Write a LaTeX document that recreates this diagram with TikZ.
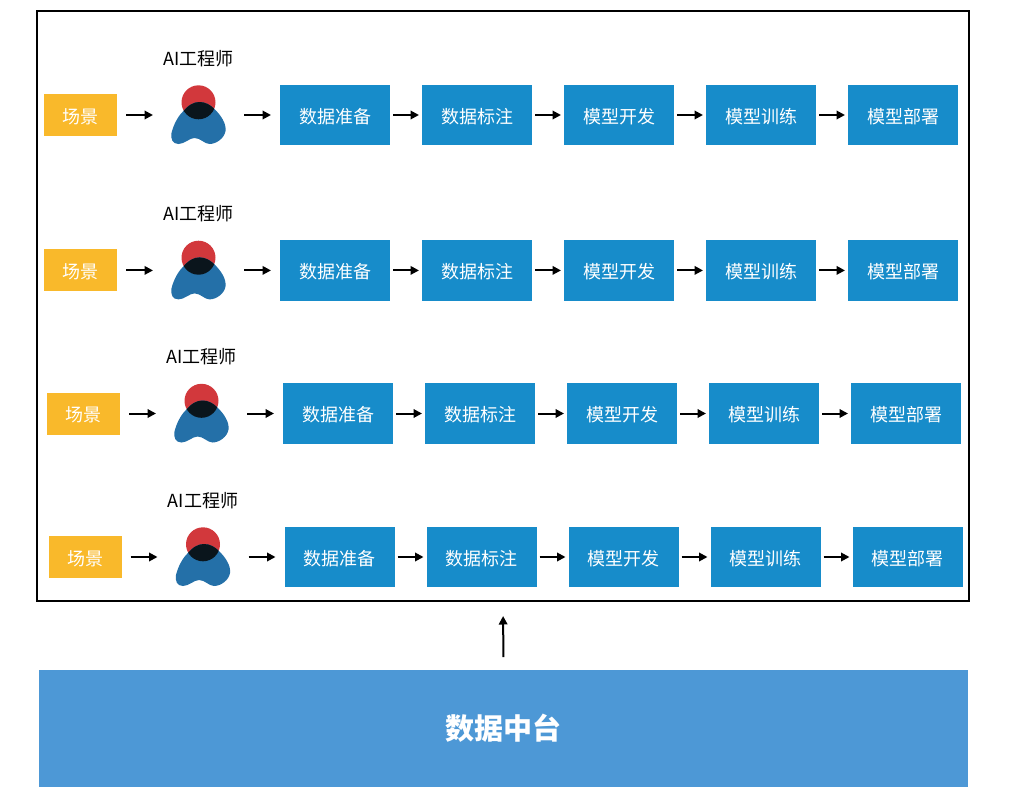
\documentclass[tikz,border=0pt]{standalone}
\usepackage{fontspec}
\setmainfont{Noto Sans CJK SC}
\usetikzlibrary{arrows.meta,positioning}
\definecolor{sceneorange}{HTML}{F9B92B}
\definecolor{stepblue}{HTML}{178CCA}
\definecolor{baseblue}{HTML}{4D98D6}
\definecolor{headred}{HTML}{D2383C}
\definecolor{bodyblue}{HTML}{2470A8}
\definecolor{overlapdark}{HTML}{0A151C}
\newcommand{\bodyshape}{(-27,18) .. controls (-25,10) and (-21,2) .. (-16,-3) .. controls (-10,-10) and (-5,-13) .. (1,-13) .. controls (7,-13) and (12,-10) .. (16,-6) .. controls (22,0) and (28,8) .. (27,16) .. controls (26,23) and (18,29) .. (11,29) .. controls (6,29) and (2,23) .. (-4,23) .. controls (-9,23) and (-14,29) .. (-20,29) .. controls (-26,29) and (-28,24) .. (-27,18) -- cycle}
\tikzset{
	pics/engineer/.style={code={
		\fill[headred] (0,-12.7) circle (17);
		\fill[bodyblue] \bodyshape;
		\begin{scope}
			\clip (0,-12.7) circle (17);
			\fill[overlapdark] \bodyshape;
		\end{scope}
	}}
}
\begin{document}
\begin{tikzpicture}[x=1pt,y=-1pt,>={Triangle[length=8.5pt,width=8.5pt]},line width=2pt,shorten >=3pt,shorten <=3pt,node distance=45pt,
		txt/.style={font=\fontsize{18}{20}\selectfont,inner sep=0pt,outer sep=0pt},
		scene/.style={txt,fill=sceneorange,text=white,text height=17pt,text depth=1pt,minimum width=73pt,minimum height=42pt},
		person/.style={txt,minimum width=73pt,minimum height=60.5pt},
		stepbox/.style={txt,fill=stepblue,text=white,text height=17pt,text depth=1pt,minimum width=110pt,minimum height=60.5pt},
		far/.style={shorten >=9pt,shorten <=9pt}]
	\useasboundingbox (0,0) rectangle (1026,800);
	\node[draw,line width=2pt,inner sep=0pt,minimum width=932pt,minimum height=590pt] (frame) at (503,306) {};
	\foreach \r/\xs/\ys in {1/80.5/115,2/80.5/270.4,3/83.5/413.5,4/85/557}{
		\node[scene] (s\r) at (\xs,\ys) {场景};
		\node[person] (p\r) [right=of s\r] {};
		\node[txt] (t\r) [above=18pt of p\r] {AI工程师};
		\pic at (p\r) {engineer};
		\node[stepbox] (a\r) [right=of p\r] {数据准备};
		\node[stepbox] (b\r) [right=32pt of a\r] {数据标注};
		\node[stepbox] (c\r) [right=32pt of b\r] {模型开发};
		\node[stepbox] (d\r) [right=32pt of c\r] {模型训练};
		\node[stepbox] (e\r) [right=32pt of d\r] {模型部署};
		\path
		(s\r) edge[->,far] (p\r)
		(p\r) edge[->,far] (a\r)
		(a\r) edge[->] (b\r)
		(b\r) edge[->] (c\r)
		(c\r) edge[->] (d\r)
		(d\r) edge[->] (e\r);
	}
	\node[fill=baseblue,text=white,inner sep=0pt,minimum width=929pt,minimum height=117pt,font=\fontsize{29}{32}\selectfont\bfseries] (base) at (503.5,728.5) {数据中台};
	\draw[->,shorten >=14pt,shorten <=12pt] (base.north) -- (frame.south);
\end{tikzpicture}
\end{document}
